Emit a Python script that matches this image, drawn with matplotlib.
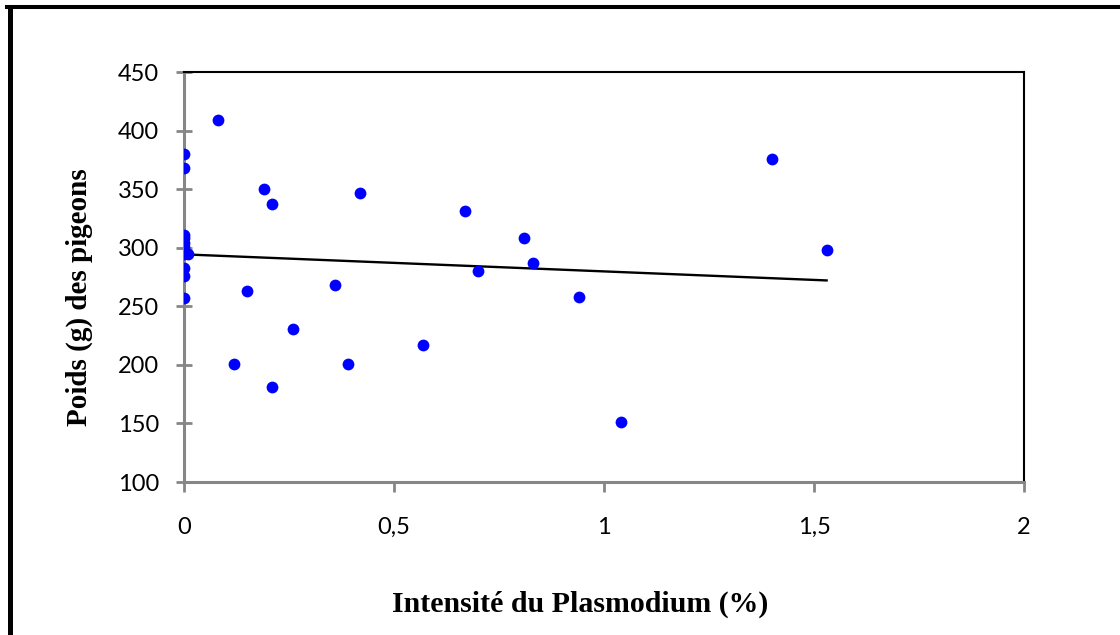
import numpy as np
import matplotlib.pyplot as plt
from matplotlib.lines import Line2D

# Intensité du Plasmodium (%) vs poids (g)
intensite = [0, 0, 0, 0, 0, 0, 0, 0, 0, 0, 0.01,
             0.08, 0.12, 0.15, 0.19, 0.21, 0.21, 0.26, 0.36, 0.39, 0.42,
             0.57, 0.67, 0.70, 0.81, 0.83, 0.94, 1.04, 1.40, 1.53]
poids = [380, 368, 311, 308, 304, 301, 295, 283, 276, 257, 295,
         409, 201, 263, 350, 337, 181, 231, 268, 201, 347,
         217, 331, 280, 308, 287, 258, 151, 376, 298]

x_ticks = [0, 0.5, 1, 1.5, 2]
x_labels = ["0", "0,5", "1", "1,5", "2"]
y_ticks = [100, 150, 200, 250, 300, 350, 400, 450]

fig = plt.figure(figsize=(11.2, 6.35), dpi=100)
ax = fig.add_axes([0.1643, 0.2409, 0.75, 0.6457])

ax.scatter(intensite, poids, s=72, color="#0000ff", zorder=3, linewidths=0)

# linear trend line
a, b = np.polyfit(intensite, poids, 1)
xs = np.array([0, max(intensite)])
ax.plot(xs, a * xs + b, color="black", lw=1.7, zorder=2)

ax.set_xlim(0, 2)
ax.set_ylim(100, 450)
ax.set_xticks(x_ticks)
ax.set_xticklabels(x_labels)
ax.set_yticks(y_ticks)

for s in ["top", "right"]:
    ax.spines[s].set_color("black")
    ax.spines[s].set_linewidth(1.5)
for s in ["left", "bottom"]:
    ax.spines[s].set_color("#868686")
    ax.spines[s].set_linewidth(2.2)
ax.tick_params(axis="y", direction="inout", length=12, width=2, color="#868686", pad=12)
ax.tick_params(axis="x", direction="out", length=7, width=2, color="#868686", pad=18)
for lab in ax.get_xticklabels() + ax.get_yticklabels():
    lab.set_fontfamily("Lato")
    lab.set_fontsize(17)

ax.set_xlabel("Intensité du Plasmodium (%)", fontfamily="Liberation Serif",
              fontweight="bold", fontsize=21.5)
ax.set_ylabel("Poids (g) des pigeons", fontfamily="Liberation Serif",
              fontweight="bold", fontsize=21)
ax.xaxis.set_label_coords(0.4714, -0.266)
ax.yaxis.set_label_coords(-0.108, 0.45)

# outer frame (left and top edges only visible)
fig.add_artist(Line2D([0.00875, 0.00875], [0, 0.989], transform=fig.transFigure,
                      color="black", lw=3.6))
fig.add_artist(Line2D([0.0066, 1.0], [0.989, 0.989], transform=fig.transFigure,
                      color="black", lw=2.9))

fig.savefig("out.png", dpi=100)
